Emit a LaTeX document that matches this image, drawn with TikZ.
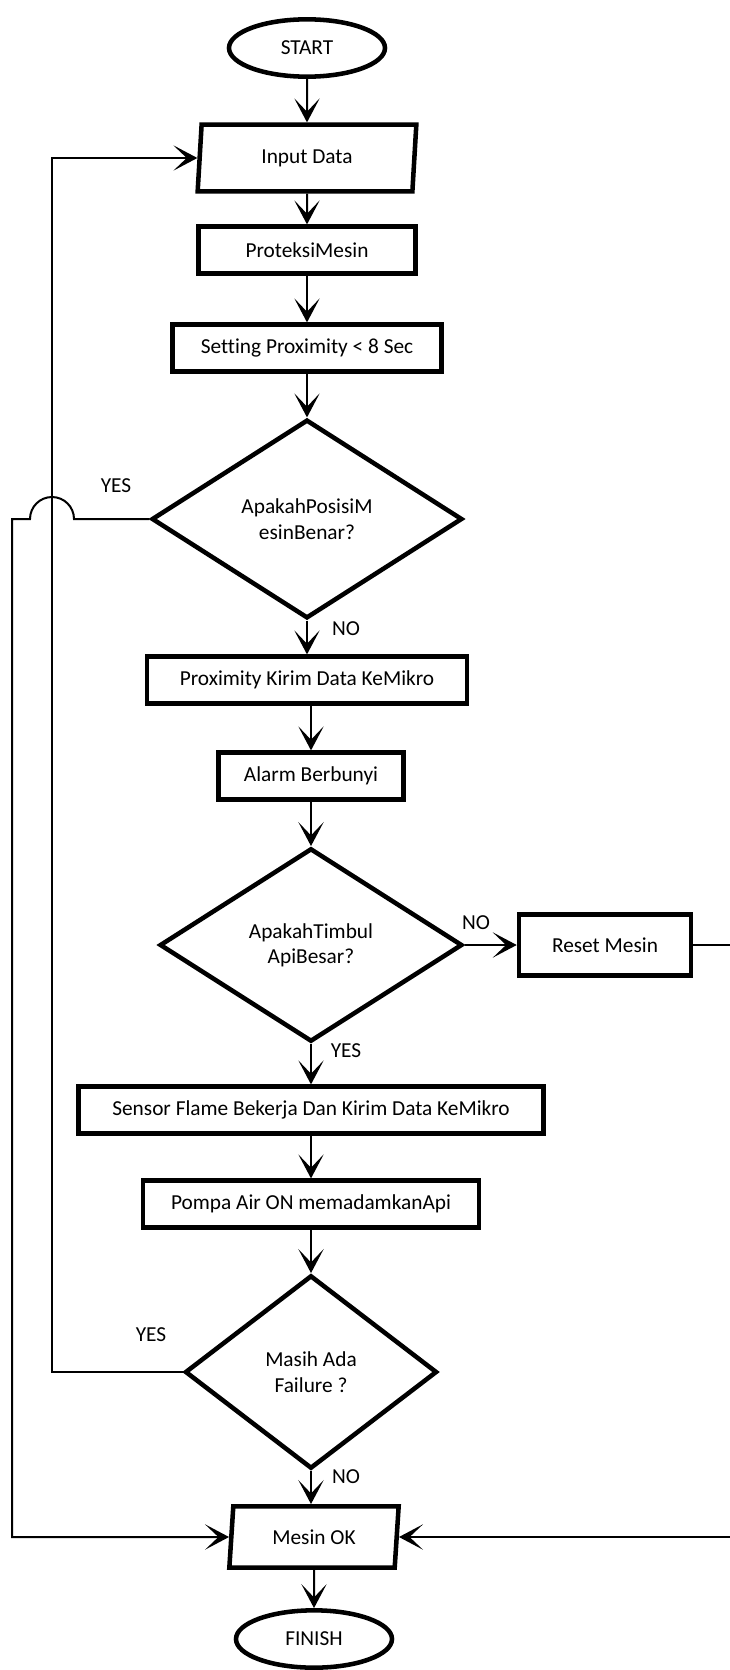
\documentclass[tikz,border=0pt]{standalone}
\usepackage{fontspec}
\setmainfont{Carlito}[Ligatures=NoCommon]
\usetikzlibrary{shapes.geometric,arrows.meta}

\begin{document}
\begin{tikzpicture}[x=0.75pt, y=-0.75pt,
		every node/.style={font=\fontsize{16}{19}\selectfont},
		box/.style={draw=black, line width=3.4pt, rectangle, inner sep=0pt, minimum height=35pt},
		io/.style={draw=black, line width=3.4pt, trapezium, trapezium left angle=77, trapezium right angle=103, trapezium stretches body, inner sep=0pt},
		term/.style={draw=black, line width=3.4pt, ellipse, inner sep=0pt, minimum width=117pt, minimum height=43pt},
		decide/.style={draw=black, line width=3.4pt, diamond, inner sep=0pt, align=center},
		flow/.style={draw=black, line width=1.5pt, -{Stealth[length=18pt, width=19pt, inset=10pt]}}]
		\useasboundingbox (0,0) rectangle (729,1670);
		\node[term] (start) at (307,48) {START};
		\node[io, minimum width=164pt, minimum height=50pt] (input) at (307,158) {Input Data};
		\node[box, minimum width=163pt] (proteksi) at (307,250) {ProteksiMesin};
		\node[box, minimum width=202pt] (setting) at (307,348) {Setting Proximity < 8 Sec};
		\node[decide, minimum width=233pt, minimum height=149pt] (cek1) at (307,519) {ApakahPosisiM\\esinBenar?};
		\node[box, minimum width=240pt] (kirim) at (307,680) {Proximity Kirim Data KeMikro};
		\node[box, minimum width=139pt] (alarm) at (311,776) {Alarm Berbunyi};
		\node[decide, minimum width=227pt, minimum height=145pt] (cek2) at (311,945) {ApakahTimbul\\ApiBesar?};
		\node[box, minimum width=129pt, minimum height=46pt] (reset) at (605,945) {Reset Mesin};
		\node[box, minimum width=349pt] (sensor) at (311,1110) {Sensor Flame Bekerja Dan Kirim Data KeMikro};
		\node[box, minimum width=252pt] (pompa) at (311,1204) {Pompa Air ON memadamkanApi};
		\node[decide, minimum width=189pt, minimum height=145pt] (cek3) at (311,1372) {Masih Ada\\Failure ?};
		\node[io, minimum width=127pt, minimum height=46pt, trapezium left angle=75, trapezium right angle=105] (ok) at (314,1537) {Mesin OK};
		\node[term] (finish) at (314,1639) {FINISH};
		\draw[flow] (start) -- (input);
		\draw[flow] (input) -- (proteksi);
		\draw[flow] (proteksi) -- (setting);
		\draw[flow] (setting) -- (cek1);
		\draw[flow] (cek1) -- (kirim);
		\draw[flow] (kirim.south -| alarm.north) -- (alarm.north);
		\draw[flow] (alarm) -- (cek2);
		\draw[flow] (cek2) -- (sensor);
		\draw[flow] (sensor) -- (pompa);
		\draw[flow] (pompa) -- (cek3);
		\draw[flow] (cek3.south) -- (cek3.south |- ok.north);
		\draw[flow] (ok) -- (finish);
		\draw[flow] (cek2) -- (reset);
		\coordinate (kanan) at (740,945);
		\draw[flow] (reset.east) -- (kanan) |- (ok.east);
		\coordinate (kiri) at (52,1372);
		\draw[flow] (cek3.west) -- (kiri) |- (input.west);
		\coordinate (lompat) at (74,519);
		\coordinate (kiriluar) at (12,519);
		\draw[flow] (cek1.west) -- (lompat) arc[start angle=0, end angle=180, radius=16.5pt] -- (kiriluar) |- (ok.west);
		\node (ya1) at (116,486) {YES};
		\node (tidak1) at (346,629) {NO};
		\node (tidak2) at (476,923) {NO};
		\node (ya2) at (346,1051) {YES};
		\node (ya3) at (151,1335) {YES};
		\node (tidak3) at (346,1477) {NO};
\end{tikzpicture}
\end{document}
